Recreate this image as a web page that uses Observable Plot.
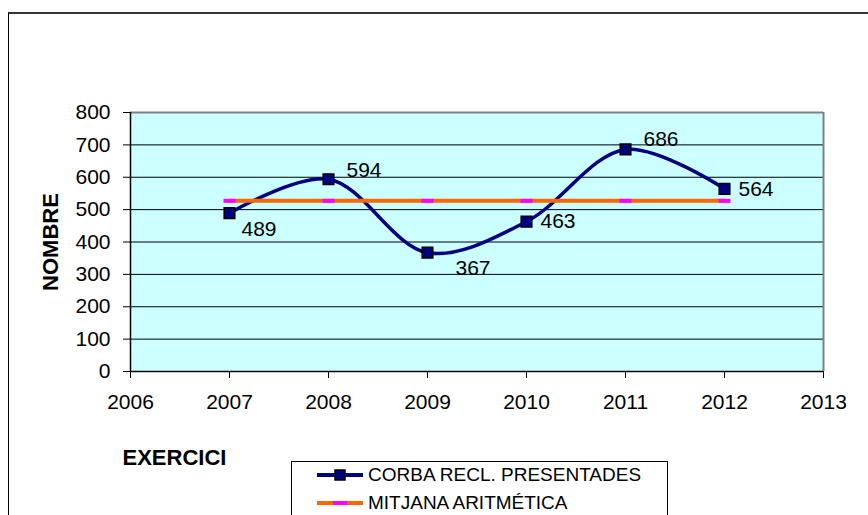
<!DOCTYPE html>
<html>
<head>
<meta charset="utf-8">
<script src="https://cdn.jsdelivr.net/npm/d3@7"></script>
<script src="https://cdn.jsdelivr.net/npm/@observablehq/plot@0.6"></script>
<style>
  html, body { margin: 0; padding: 0; background: #fff; overflow: hidden; }
  #wrap { position: relative; width: 868px; height: 515px; overflow: hidden; font-family: "Liberation Sans", Arial, sans-serif; }
  #outer { position: absolute; left: 8px; top: 12px; width: 900px; height: 600px; border-top: 2px solid #333; border-left: 1px solid #000; pointer-events: none; }
  #legend { position: absolute; left: 291px; top: 461px; width: 375px; height: 70px; border: 1px solid #000; background: #fff; font-size: 19px; color: #000; }
  .row { position: absolute; left: 24px; height: 24px; display: flex; align-items: center; }
  .row svg { margin-right: 4px; }
  #chart svg g[aria-label$="tick label"] { font-size: 21px !important; }
  #chart svg g[aria-label$="tick label"] text { font-size: 21px !important; }
</style>
</head>
<body>
<div id="wrap">
  <div id="chart"></div>
  <div id="outer"></div>
  <div id="legend"></div>
</div>
<script>
// ---- data ----
const years = [2007, 2008, 2009, 2010, 2011, 2012];
const values = [489, 594, 367, 463, 686, 564];
const seriesNames = ["CORBA RECL. PRESENTADES", "MITJANA ARITMÉTICA"];
const xTicks = [2006, 2007, 2008, 2009, 2010, 2011, 2012, 2013];
const yTicks = [0, 100, 200, 300, 400, 500, 600, 700, 800];
const xTitle = "EXERCICI";
const yTitle = "NOMBRE";

const mean = d3.mean(values);
const data = years.map((x, i) => ({x, y: values[i]}));
const meanData = years.map(x => ({x, y: mean}));

// label offsets (placement only)
const labelOffsets = [[12, 16], [18, -9], [28, 16], [14, 0], [18, -10], [14, 0]];

const dash = { draw(ctx) { ctx.moveTo(-6, 0); ctx.lineTo(6, 0); } };

const labelMarks = data.map((d, i) => Plot.text([d], {
  x: "x", y: "y", text: d => String(d.y), textAnchor: "start",
  dx: labelOffsets[i][0], dy: labelOffsets[i][1], fontSize: 21, fill: "#000"
}));

const chart = Plot.plot({
  width: 868,
  height: 515,
  marginLeft: 130,
  marginRight: 45,
  marginTop: 112,
  marginBottom: 144,
  style: { fontFamily: "'Liberation Sans', Arial, sans-serif", fontSize: "21px", color: "#000", background: "transparent", overflow: "visible" },
  x: { domain: [2006, 2013] },
  y: { domain: [0, 800] },
  marks: [
    Plot.frame({ fill: "#CCFFFF", stroke: null }),
    Plot.ruleY(yTicks.filter(v => v > 0 && v < 800), { stroke: "#000", strokeWidth: 1 }),
    Plot.ruleY([800], { stroke: "#808080", strokeWidth: 2 }),
    Plot.ruleX([2013], { stroke: "#808080", strokeWidth: 2 }),
    Plot.ruleX([2006], { stroke: "#000", strokeWidth: 1.5 }),
    Plot.ruleY([0], { stroke: "#000", strokeWidth: 1.5 }),
    Plot.axisX({ ticks: xTicks, tickFormat: d => String(d), tickSize: 7, tickPadding: 16, label: null, fontSize: 21, stroke: "#000" }),
    Plot.axisY({ ticks: yTicks, tickFormat: d => String(d), tickSize: 7, tickPadding: 13, label: null, fontSize: 21, stroke: "#000" }),
    Plot.line(data, { x: "x", y: "y", curve: "catmull-rom", stroke: "#000080", strokeWidth: 3.5 }),
    Plot.line(meanData, { x: "x", y: "y", stroke: "#FF6600", strokeWidth: 4 }),
    Plot.dot(meanData, { x: "x", y: "y", symbol: dash, r: 6, stroke: "#FF00FF", strokeWidth: 4, fill: "none" }),
    Plot.dot(data, { x: "x", y: "y", symbol: "square", r: 6, fill: "#000080", stroke: "#000", strokeWidth: 1.5 }),
    ...labelMarks,
    Plot.text([xTitle], { frameAnchor: "bottom-left", dx: -8, dy: 93, textAnchor: "start", fontWeight: "bold", fontSize: 22, fill: "#000" }),
    Plot.text([yTitle], { frameAnchor: "left", dx: -80, dy: 0, rotate: -90, textAnchor: "middle", fontWeight: "bold", fontSize: 22, fill: "#000" })
  ]
});
document.getElementById("chart").appendChild(chart);

// legend
const legend = document.getElementById("legend");
function row(top, name, i) {
  const r = document.createElement("div");
  r.className = "row";
  r.style.top = top + "px";
  const s = d3.create("svg").attr("width", 48).attr("height", 20);
  if (i === 0) {
    s.append("line").attr("x1", 1).attr("x2", 47).attr("y1", 10).attr("y2", 10).attr("stroke", "#000080").attr("stroke-width", 4);
    s.append("rect").attr("x", 19).attr("y", 5).attr("width", 10).attr("height", 10).attr("fill", "#000080").attr("stroke", "#000").attr("stroke-width", 1.5);
  } else {
    s.append("line").attr("x1", 1).attr("x2", 47).attr("y1", 10).attr("y2", 10).attr("stroke", "#FF6600").attr("stroke-width", 4);
    s.append("line").attr("x1", 17).attr("x2", 31).attr("y1", 10).attr("y2", 10).attr("stroke", "#FF00FF").attr("stroke-width", 4);
  }
  r.appendChild(s.node());
  const t = document.createElement("span");
  t.textContent = name;
  r.appendChild(t);
  legend.appendChild(r);
}
row(1, seriesNames[0], 0);
row(29, seriesNames[1], 1);
</script>
</body>
</html>
